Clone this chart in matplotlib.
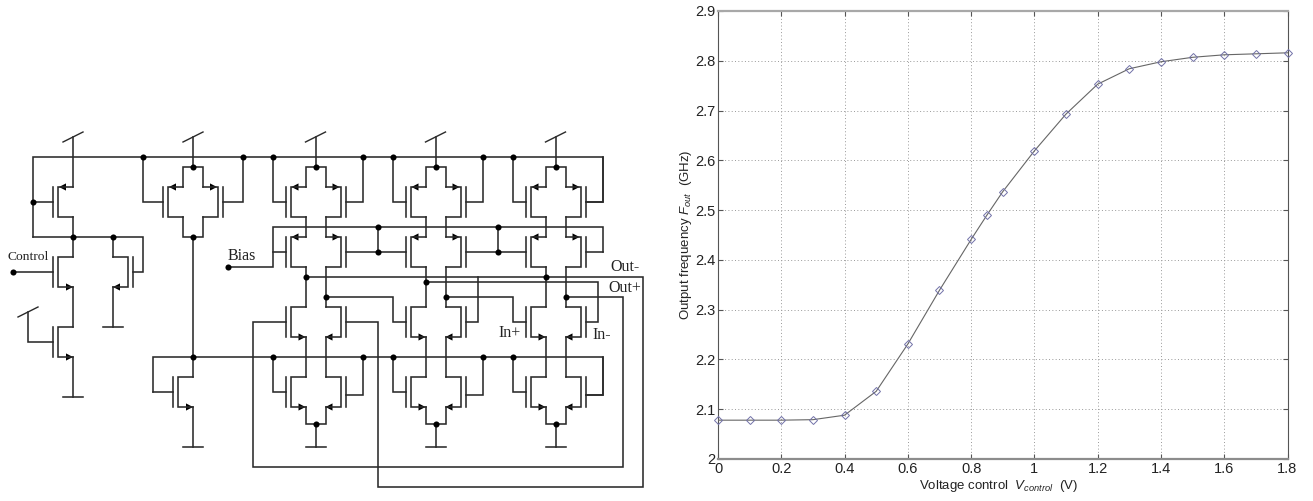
import matplotlib
matplotlib.use('Agg')
import matplotlib.pyplot as plt

# curve values
voltage = [0, 0.1, 0.2, 0.3, 0.4, 0.5, 0.6, 0.7, 0.8, 0.85, 0.9, 1.0, 1.1, 1.2, 1.3, 1.4, 1.5, 1.6, 1.7, 1.8]
freq = [2.078, 2.078, 2.078, 2.079, 2.088, 2.136, 2.231, 2.339, 2.441, 2.490,
        2.537, 2.619, 2.693, 2.753, 2.784, 2.798, 2.807, 2.812, 2.814, 2.816]
x_ticks = [0, 0.2, 0.4, 0.6, 0.8, 1, 1.2, 1.4, 1.6, 1.8]
x_tick_labels = ['0', '0.2', '0.4', '0.6', '0.8', '1', '1.2', '1.4', '1.6', '1.8']
y_ticks = [2, 2.1, 2.2, 2.3, 2.4, 2.5, 2.6, 2.7, 2.8, 2.9]
y_tick_labels = ['2', '2.1', '2.2', '2.3', '2.4', '2.5', '2.6', '2.7', '2.8', '2.9']

# schematic geometry, in image pixels
cell_centres = [315.5, 435.5, 555.5]
wires = [
    # rails
    [(33, 237), (33, 157), (603, 157), (603, 202), (585.5, 202)],
    [(153, 392), (153, 357), (603, 357), (603, 394.5), (585.5, 394.5)],
    [(603, 252), (603, 227), (273, 227), (273, 267), (228, 267)],
    # left branch
    [(33, 202), (53, 202)],
    [(73, 137), (73, 187)], [(73, 217), (73, 257)], [(73, 287), (73, 327)], [(73, 357), (73, 397)],
    [(33, 237), (143, 237), (143, 272), (133, 272)],
    [(113, 237), (113, 257)], [(113, 287), (113, 327)],
    [(13, 272), (53, 272)],
    [(28, 312), (28, 342), (53, 342)],
    # bias branch
    [(193, 137), (193, 167)], [(183, 187), (183, 167), (203, 167), (203, 187)],
    [(143, 157), (143, 202), (163, 202)], [(223, 202), (243, 202), (243, 157)],
    [(183, 217), (183, 237), (203, 237), (203, 217)],
    [(193, 237), (193, 377)], [(153, 392), (173, 392)], [(193, 407), (193, 447)],
    # cascode gates
    [(345.5, 252), (405.5, 252)], [(465.5, 252), (525.5, 252)], [(585.5, 252), (603, 252)],
    [(273, 252), (285.5, 252)], [(378, 227), (378, 252)], [(498, 227), (498, 252)],
    # cross coupling
    [(285.5, 322), (253, 322), (253, 467), (623, 467), (623, 297), (565.5, 297)],
    [(305.5, 277), (643, 277), (643, 487), (378, 487), (378, 322), (345.5, 322)],
    [(425.5, 282), (598, 282), (598, 322), (585.5, 322)],
    [(445.5, 297), (513, 297), (513, 322), (525.5, 322)],
    [(325.5, 297), (393, 297), (393, 322), (405.5, 322)],
    [(478, 277), (478, 322), (465.5, 322)],
]
dots = [(33, 202), (73, 237), (113, 237), (143, 157), (243, 157), (193, 167), (193, 237), (193, 357),
        (13, 272), (228, 267), (378, 227), (378, 252), (498, 227), (498, 252),
        (305.5, 277), (545.5, 277), (425.5, 282), (325.5, 297), (445.5, 297), (565.5, 297)]
supply_x = [(73, 137), (193, 137), (28, 312)]
ground_x = [(73, 397), (113, 327), (193, 447)]
# gate bar x, top y, side the channel is on, kind
transistors = [
    (53, 187, 1, 'p'), (53, 257, 1, 'n'), (53, 327, 1, 'n'), (133, 257, -1, 'n'),
    (163, 187, 1, 'p'), (223, 187, -1, 'p'), (173, 377, 1, 'n'),
]
circuit_labels = [
    (8, 257, 'Control', 9.7), (228, 256, 'Bias', 11.5), (610, 267, 'Out-', 11.5), (608, 288, 'Out+', 11.5),
    (498, 333, 'In+', 11.5), (592, 335, 'In-', 11.5),
]

W, H = 1313, 501
wire_color = '#2a2a2a'

plt.rcParams['font.family'] = 'Liberation Sans'
plt.rcParams['mathtext.fontset'] = 'custom'
plt.rcParams['mathtext.rm'] = 'Liberation Sans'
plt.rcParams['mathtext.it'] = 'Liberation Sans:italic'

fig = plt.figure(figsize=(W / 100, H / 100), dpi=100)
sch = fig.add_axes([0, 0, 1, 1])
sch.set_xlim(0, W)
sch.set_ylim(H, 0)
sch.axis('off')


def wire(points, lw=1.15):
    xs = [p[0] for p in points]
    ys = [p[1] for p in points]
    sch.plot(xs, ys, color=wire_color, lw=lw, solid_capstyle='projecting', solid_joinstyle='miter')


def mos(gate_x, top, side, kind):
    bottom = top + 30
    channel = gate_x + 5 * side
    column = gate_x + 20 * side
    wire([(gate_x, top), (gate_x, bottom)])
    wire([(column, top), (channel, top), (channel, bottom), (column, bottom)])
    if kind == 'p':
        tip = channel + 1 * side
        base = tip + 7 * side
        y = top
    else:
        tip = column
        base = tip - 7 * side
        y = bottom
    sch.fill([tip, base, base], [y, y - 3.6, y + 3.6], color='black', lw=0)


def cell(cx):
    # one stacked column of the delay stage
    wire([(cx, 137), (cx, 167)])
    wire([(cx - 10, 187), (cx - 10, 167), (cx + 10, 167), (cx + 10, 187)])
    for col in (cx - 10, cx + 10):
        wire([(col, 217), (col, 237)])
        wire([(col, 267), (col, 307)])
        wire([(col, 337), (col, 377)])
    wire([(cx - 10, 407), (cx - 10, 424), (cx + 10, 424), (cx + 10, 407)])
    wire([(cx, 424), (cx, 447)])
    wire([(cx - 42.5, 157), (cx - 42.5, 202), (cx - 30, 202)])
    wire([(cx + 30, 202), (cx + 47.5, 202), (cx + 47.5, 157)])
    wire([(cx - 42.5, 357), (cx - 42.5, 392), (cx - 30, 392)])
    wire([(cx + 30, 394.5), (cx + 47.5, 394.5), (cx + 47.5, 357)])
    for top, kind in ((187, 'p'), (237, 'p'), (307, 'n'), (377, 'n')):
        mos(cx - 30, top, 1, kind)
        mos(cx + 30, top, -1, kind)
    supply_x.append((cx, 137))
    ground_x.append((cx, 447))
    dots.extend([(cx, 167), (cx, 424), (cx - 42.5, 157), (cx - 42.5, 357)])
    # the last cell's right gates end at the rail corners, no dot there
    if cx != cell_centres[-1]:
        dots.extend([(cx + 47.5, 157), (cx + 47.5, 357)])


for cx in cell_centres:
    cell(cx)
for w in wires:
    wire(w)
for t in transistors:
    mos(*t)
for x, y in supply_x:
    wire([(x - 10, y + 5), (x + 10, y - 5)], lw=1.0)
for x, y in ground_x:
    wire([(x - 10, y), (x + 10, y)])
sch.plot([d[0] for d in dots], [d[1] for d in dots], 'o', color='black', ms=4.4, mew=0)
for x, y, s, size in circuit_labels:
    sch.text(x, y, s, family='Liberation Serif', fontsize=size, color='#222222', ha='left', va='center')

# frequency curve
left, right, top, bottom = 718, 1287.5, 11, 459
ax = fig.add_axes([left / W, 1 - bottom / H, (right - left) / W, (bottom - top) / H])
ax.plot(voltage, freq, color='#666666', lw=0.8, zorder=3)
ax.plot(voltage, freq, ls='none', marker='D', ms=4.3, mfc='none', mec='#7272a8', mew=0.7, zorder=4, clip_on=False)
ax.set_xlim(0, 1.8)
ax.set_ylim(2, 2.9)
ax.set_xticks(x_ticks)
ax.set_xticklabels(x_tick_labels)
ax.set_yticks(y_ticks)
ax.set_yticklabels(y_tick_labels)
ax.grid(True, color='#999999', lw=0.7, ls=(0, (1, 2.4)))
ax.set_axisbelow(True)
ax.tick_params(direction='in', length=3.5, width=0.8, color='#555555', labelsize=10.5, labelcolor='#222222',
               top=True, right=True, pad=2)
ax.spines['top'].set_color('#a8a8a8')
ax.spines['top'].set_linewidth(1.6)
ax.spines['bottom'].set_color('#8c8c8c')
ax.spines['bottom'].set_linewidth(1.6)
ax.spines['left'].set_color('#555555')
ax.spines['right'].set_color('#555555')
fig.text(998 / W, 1 - 486 / H, r'Voltage control  $V_{control}$  (V)', fontsize=9.5, color='#222222',
         ha='center', va='center')
fig.text(686.5 / W, 1 - 235 / H, r'Output frequency $F_{out}$  (GHz)', fontsize=9.5, color='#222222',
         ha='center', va='center', rotation=90)

fig.savefig('out.png', dpi=100)
